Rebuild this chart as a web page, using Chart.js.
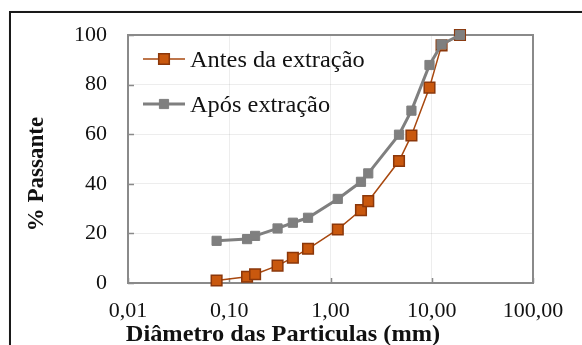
<!DOCTYPE html>
<html>
<head>
<meta charset="utf-8">
<script src="https://cdn.jsdelivr.net/npm/chart.js@4"></script>
<style>
html, body { margin: 0; padding: 0; background: #fff; overflow: hidden; }
#wrap { position: relative; width: 582px; height: 345px; overflow: hidden; }
#frame { position: absolute; left: 9px; top: 11px; width: 640px; height: 420px;
         border: 2px solid #1a1a1a; box-sizing: border-box;
         box-shadow: 1px 1px 2px rgba(0,0,0,0.35); }
canvas { position: absolute; left: 0; top: 0; }
</style>
</head>
<body>
<div id="wrap"><div id="frame"></div><canvas id="c" width="582" height="345"></canvas></div>
<script>
// Sieve openings (mm) and cumulative percentage passing
const particleSizes  = [0.075, 0.15, 0.18, 0.3, 0.425, 0.6, 1.18, 2.0, 2.36, 4.75, 6.3, 9.5, 12.5, 19];
const passingBefore  = [1.0, 2.5, 3.5, 7.0, 10.2, 13.8, 21.6, 29.4, 33.0, 49.2, 59.5, 78.8, 95.8, 100];
const passingAfter   = [17.0, 17.7, 19.0, 22.0, 24.3, 26.3, 33.9, 40.8, 44.2, 59.8, 69.5, 87.9, 96.2, 100];
const seriesLabels   = ['Antes da extração', 'Após extração'];
const xTickValues    = [0.01, 0.1, 1, 10, 100];
const yTickValues    = [0, 20, 40, 60, 80, 100];
const xAxisTitle     = 'Diâmetro das Particulas (mm)';
const yAxisTitle     = '% Passante';

const SERIF = '"Liberation Serif", "Times New Roman", serif';
const TEXT_STRETCH = 1.06; // slightly widened horizontal lettering

const toPoints = (ys) => particleSizes.map((x, i) => ({ x: x, y: ys[i] }));

// Plot frame and inward tick marks, drawn beneath the series
const framePlugin = {
  id: 'frame',
  beforeDatasetsDraw(chart) {
    const { ctx, chartArea: a, scales } = chart;
    ctx.save();
    ctx.strokeStyle = '#8a8a8a';
    ctx.lineWidth = 2;
    ctx.strokeRect(a.left, a.top, a.right - a.left, a.bottom - a.top);
    ctx.lineWidth = 1.5;
    ctx.beginPath();
    xTickValues.forEach(v => {
      const px = Math.round(scales.x.getPixelForValue(v)) + 0.5;
      ctx.moveTo(px, a.bottom);
      ctx.lineTo(px, a.bottom - 5);
    });
    yTickValues.forEach(v => {
      const py = Math.round(scales.y.getPixelForValue(v)) + 0.5;
      ctx.moveTo(a.left, py);
      ctx.lineTo(a.left + 6, py);
    });
    ctx.stroke();
    ctx.restore();
  }
};

function stretchedText(ctx, text, x, y, align) {
  ctx.save();
  ctx.translate(x, y);
  ctx.scale(TEXT_STRETCH, 1);
  ctx.textAlign = align;
  ctx.textBaseline = 'alphabetic';
  ctx.fillText(text, 0, 0);
  ctx.restore();
}

// Legend with a line sample and marker, plus the two axis titles
const annotatePlugin = {
  id: 'annotate',
  afterDraw(chart) {
    const { ctx, chartArea: a } = chart;
    ctx.save();
    chart.data.datasets.forEach((ds, i) => {
      const cy = a.top + 24 + i * 45;
      const x0 = a.left + 15, x1 = a.left + 57, mx = a.left + 36;
      ctx.strokeStyle = ds.borderColor;
      ctx.lineWidth = ds.borderWidth;
      ctx.beginPath();
      ctx.moveTo(x0, cy);
      ctx.lineTo(x1, cy);
      ctx.stroke();
      ctx.fillStyle = ds.pointBackgroundColor;
      ctx.strokeStyle = ds.pointBorderColor;
      ctx.lineWidth = ds.pointBorderWidth;
      Chart.helpers.drawPoint(ctx, { pointStyle: 'rect', radius: ds.pointRadius, borderWidth: ds.pointBorderWidth, rotation: 0 }, mx, cy);
      ctx.fillStyle = '#111';
      ctx.font = '23px ' + SERIF;
      stretchedText(ctx, ds.label, a.left + 62, cy + 8, 'left');
    });

    ctx.fillStyle = '#111';
    ctx.font = 'bold 23px ' + SERIF;
    stretchedText(ctx, xAxisTitle, 283, 341, 'center');

    ctx.translate(43, 174);
    ctx.rotate(-Math.PI / 2);
    ctx.textAlign = 'center';
    ctx.textBaseline = 'alphabetic';
    ctx.fillText(yAxisTitle, 0, 0);
    ctx.restore();
  }
};

new Chart(document.getElementById('c'), {
  type: 'line',
  data: {
    datasets: [
      {
        label: seriesLabels[0],
        data: toPoints(passingBefore),
        borderColor: '#A8480F',
        borderWidth: 1.5,
        pointStyle: 'rect',
        pointRadius: 7.5,
        pointHoverRadius: 7.5,
        pointBackgroundColor: '#C9580E',
        pointBorderColor: '#8B370A',
        pointBorderWidth: 1.5,
        tension: 0,
        clip: false,
        order: 1
      },
      {
        label: seriesLabels[1],
        data: toPoints(passingAfter),
        borderColor: '#7F7F7F',
        borderWidth: 3,
        pointStyle: 'rect',
        pointRadius: 6.5,
        pointHoverRadius: 6.5,
        pointBackgroundColor: '#7F7F7F',
        pointBorderColor: '#7F7F7F',
        pointBorderWidth: 1,
        tension: 0,
        clip: false,
        order: 0
      }
    ]
  },
  options: {
    responsive: false,
    animation: false,
    events: [],
    layout: { padding: { left: 0, right: 49, top: 35, bottom: 0 } },
    plugins: { legend: { display: false }, tooltip: { enabled: false } },
    scales: {
      x: {
        type: 'logarithmic',
        min: 0.01,
        max: 100,
        afterBuildTicks: (s) => { s.ticks = xTickValues.map(v => ({ value: v })); },
        afterFit: (s) => { s.height = 62; },
        ticks: {
          autoSkip: false,
          maxRotation: 0,
          padding: 15,
          color: '#111',
          font: { family: SERIF, size: 22 },
          callback: (v) => Number(v).toFixed(2).replace('.', ',')
        },
        grid: { color: 'rgba(0,0,0,0.07)', drawTicks: false },
        border: { display: false }
      },
      y: {
        min: 0,
        max: 100,
        afterBuildTicks: (s) => { s.ticks = yTickValues.map(v => ({ value: v })); },
        afterFit: (s) => { s.width = 128; },
        ticks: {
          padding: 21,
          color: '#111',
          font: { family: SERIF, size: 22 }
        },
        grid: { color: 'rgba(0,0,0,0.07)', drawTicks: false },
        border: { display: false }
      }
    }
  },
  plugins: [framePlugin, annotatePlugin]
});
</script>
</body>
</html>
